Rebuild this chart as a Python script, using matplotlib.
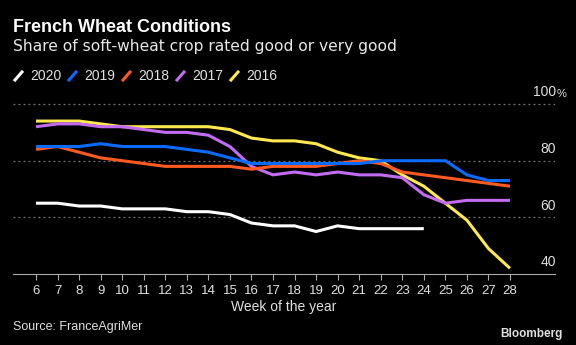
import matplotlib.pyplot as plt
from matplotlib.lines import Line2D
import numpy as np

plt.rcParams["font.family"] = "Liberation Sans"

# weekly crop ratings (% good/very good)
weeks = list(range(6, 29))
y2020 = [65, 65, 64, 64, 63, 63, 63, 62, 62, 61, 58, 57, 57, 55, 57, 56, 56, 56, 56]
y2019 = [85, 85, 85, 86, 85, 85, 85, 84, 83, 81, 79, 79, 79, 79, 79, 79, 80, 80, 80, 80, 75, 73, 73]
y2018 = [84, 85, 83, 81, 80, 79, 78, 78, 78, 78, 77, 78, 78, 78, 79, 80, 79, 76, 75, 74, 73, 72, 71]
y2017 = [92, 93, 93, 92, 92, 91, 90, 90, 89, 85, 78, 75, 76, 75, 76, 75, 75, 74, 68, 65, 66, 66, 66]
y2016 = [94, 94, 94, 93, 92, 92, 92, 92, 92, 91, 88, 87, 87, 86, 83, 81, 80, 75, 71, 65, 59, 49, 42]

years = ["2020", "2019", "2018", "2017", "2016"]
series = [y2020, y2019, y2018, y2017, y2016]
colors = ["#ffffff", "#0a6cff", "#ff5a1f", "#c36cf3", "#ffe94c"]

yticks = [40, 60, 80, 100]
ylabels = ["40", "60", "80", "100"]

fig = plt.figure(figsize=(5.76, 3.45), dpi=100, facecolor="black")
ax = fig.add_axes([13 / 576, 1 - 274 / 345, 542 / 576, (274 - 95) / 345])
ax.set_facecolor("black")

# draw oldest first so 2020 sits on top
for vals, c in reversed(list(zip(series, colors))):
    ax.plot(weeks[:len(vals)], vals, color=c, lw=2.2, solid_joinstyle="round",
            solid_capstyle="butt", clip_on=False)

ax.set_xlim(4.93, 30.09)
ax.set_ylim(40, 103.2)
ax.set_xticks(weeks)
ax.set_yticks(yticks)
ax.tick_params(axis="x", colors="#aaaaaa", length=4, width=0.8, labelcolor="#e0e0e0",
               labelsize=9.5, pad=4)
ax.tick_params(axis="y", length=0, labelleft=False)
for s in ["top", "right", "left"]:
    ax.spines[s].set_visible(False)
ax.spines["bottom"].set_color("#aaaaaa")
ax.spines["bottom"].set_linewidth(0.8)
for v in yticks[1:]:
    ax.axhline(v, color="#777777", lw=0.9, ls=(0, (1.5, 2.5)), zorder=0)
for v, lab in zip(yticks, ylabels):
    ax.text(1.002, v + 1.7, lab, transform=ax.get_yaxis_transform(), ha="right",
            va="bottom", color="#e0e0e0", fontsize=10)
ax.text(1.003, yticks[-1] + 1.7, "%", transform=ax.get_yaxis_transform(), ha="left",
        va="bottom", color="#e0e0e0", fontsize=8)

ax.set_xlabel("Week of the year", color="#e0e0e0", fontsize=10, labelpad=2)

fig.text(13 / 576, 1 - 27 / 345, "French Wheat Conditions", color="white",
         fontsize=13, fontweight="bold", va="center")
fig.text(13 / 576, 1 - 46 / 345, "Share of soft-wheat crop rated good or very good",
         color="#e8e8e8", fontsize=11.2, va="center", family="DejaVu Sans")

# legend with slanted swatches
for i, (yr, c) in enumerate(zip(years, colors)):
    x0 = 15 + i * 54
    fig.add_artist(Line2D([x0 / 576, (x0 + 7) / 576], [1 - 80 / 345, 1 - 72 / 345],
                          color=c, lw=2.2, transform=fig.transFigure))
    fig.text((x0 + 15) / 576, 1 - 76 / 345, yr, color="#e0e0e0", fontsize=10,
             va="center")

fig.text(13 / 576, 1 - 327 / 345, "Source: FranceAgriMer", color="#e0e0e0",
         fontsize=9, va="center")
fig.text(563 / 576, 1 - 334 / 345, "Bloomberg", color="#e0e0e0", fontsize=8.5,
         fontweight="bold", ha="right", va="center")

fig.savefig("out.png", facecolor="black", dpi=100)
